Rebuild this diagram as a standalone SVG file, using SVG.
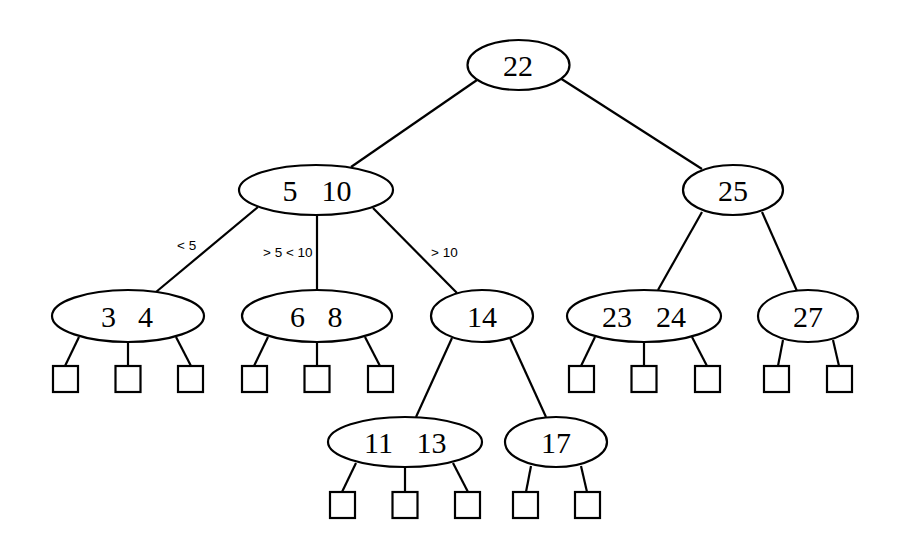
<svg xmlns="http://www.w3.org/2000/svg" width="898" height="533" viewBox="0 0 898 533">
<style>
.n{fill:#fff;stroke:#000;stroke-width:2.2}
.t{font-family:"Liberation Serif","Times New Roman",serif;font-size:30px;text-anchor:middle;fill:#000}
.e{stroke:#000;stroke-width:2.2;fill:none}
.lf{fill:#fff;stroke:#000;stroke-width:2.2}
.lb{font-family:"Liberation Sans",Arial,sans-serif;font-size:13.5px;fill:#000}
</style>
<rect width="898" height="533" fill="#fff"/>
<g id="connectors" class="e">
<line x1="477" y1="80" x2="351" y2="167"/>
<line x1="560" y1="78" x2="702" y2="169"/>
<line x1="258" y1="207" x2="156" y2="292"/>
<line x1="317" y1="215" x2="317" y2="290"/>
<line x1="373" y1="208" x2="457" y2="293"/>
<line x1="702" y1="212" x2="658" y2="290"/>
<line x1="762" y1="212" x2="797" y2="291"/>
<line x1="452" y1="338" x2="416" y2="417"/>
<line x1="510" y1="338" x2="546" y2="417"/>
<line x1="79" y1="337" x2="65" y2="366"/>
<line x1="128" y1="342" x2="128" y2="366"/>
<line x1="176" y1="337" x2="191" y2="366"/>
<line x1="268" y1="337" x2="254" y2="366"/>
<line x1="317" y1="342" x2="317" y2="366"/>
<line x1="365" y1="337" x2="380" y2="366"/>
<line x1="595" y1="337" x2="581" y2="366"/>
<line x1="644" y1="342" x2="644" y2="366"/>
<line x1="692" y1="337" x2="707" y2="366"/>
<line x1="783" y1="340" x2="778" y2="366"/>
<line x1="833" y1="340" x2="839" y2="366"/>
<line x1="356" y1="463" x2="342" y2="492"/>
<line x1="405" y1="467" x2="405" y2="492"/>
<line x1="453" y1="463" x2="468" y2="492"/>
<line x1="531" y1="466" x2="526" y2="492"/>
<line x1="581" y1="466" x2="587" y2="492"/>
</g>
<g id="edge-labels">
<text class="lb" x="177" y="250">&lt; 5</text>
<text class="lb" x="263" y="257">&gt; 5 &lt; 10</text>
<text class="lb" x="431" y="257">&gt; 10</text>
</g>
<g id="n22"><ellipse class="n" cx="518.5" cy="65" rx="51" ry="25"/><text class="t" x="518" y="76">22</text></g>
<g id="n5_10"><ellipse class="n" cx="316" cy="190" rx="77" ry="25"/><text class="t" x="290" y="201">5</text><text class="t" x="336.5" y="201">10</text></g>
<g id="n25"><ellipse class="n" cx="733" cy="190" rx="50" ry="25"/><text class="t" x="733" y="201">25</text></g>
<g id="n3_4"><ellipse class="n" cx="128" cy="316" rx="76" ry="26"/><text class="t" x="108.5" y="327">3</text><text class="t" x="145.5" y="327">4</text></g>
<g id="n6_8"><ellipse class="n" cx="317" cy="316" rx="75" ry="26"/><text class="t" x="297.5" y="327">6</text><text class="t" x="335" y="327">8</text></g>
<g id="n14"><ellipse class="n" cx="482" cy="316" rx="51" ry="26"/><text class="t" x="482" y="327">14</text></g>
<g id="n23_24"><ellipse class="n" cx="644" cy="316" rx="77" ry="26"/><text class="t" x="617" y="327">23</text><text class="t" x="671" y="327">24</text></g>
<g id="n27"><ellipse class="n" cx="808" cy="316" rx="50" ry="26"/><text class="t" x="808" y="327">27</text></g>
<g id="n11_13"><ellipse class="n" cx="405" cy="442" rx="77" ry="25"/><text class="t" x="378.5" y="453">11</text><text class="t" x="431.5" y="453">13</text></g>
<g id="n17"><ellipse class="n" cx="556" cy="442" rx="51" ry="25"/><text class="t" x="556" y="453">17</text></g>
<g id="leaves">
<rect id="leaf1" class="lf" x="53" y="366" width="25" height="26"/>
<rect id="leaf2" class="lf" x="115.5" y="366" width="25" height="26"/>
<rect id="leaf3" class="lf" x="178" y="366" width="25" height="26"/>
<rect id="leaf4" class="lf" x="242" y="366" width="25" height="26"/>
<rect id="leaf5" class="lf" x="304.5" y="366" width="25" height="26"/>
<rect id="leaf6" class="lf" x="368" y="366" width="25" height="26"/>
<rect id="leaf7" class="lf" x="569" y="366" width="25" height="26"/>
<rect id="leaf8" class="lf" x="631.5" y="366" width="25" height="26"/>
<rect id="leaf9" class="lf" x="695" y="366" width="25" height="26"/>
<rect id="leaf10" class="lf" x="764" y="366" width="25" height="26"/>
<rect id="leaf11" class="lf" x="827" y="366" width="25" height="26"/>
<rect id="leaf12" class="lf" x="330" y="492" width="25" height="26"/>
<rect id="leaf13" class="lf" x="392.5" y="492" width="25" height="26"/>
<rect id="leaf14" class="lf" x="455" y="492" width="25" height="26"/>
<rect id="leaf15" class="lf" x="513" y="492" width="25" height="26"/>
<rect id="leaf16" class="lf" x="575" y="492" width="25" height="26"/>
</g>
</svg>
